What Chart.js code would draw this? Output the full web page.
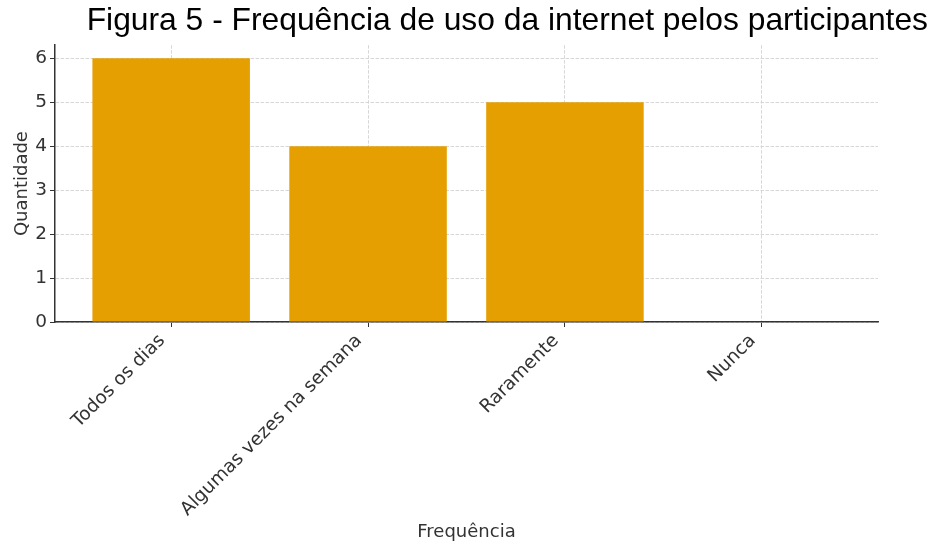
<!DOCTYPE html>
<html lang="pt">
<head>
<meta charset="utf-8">
<title>Frequência de uso da internet</title>
<script src="https://cdn.jsdelivr.net/npm/chart.js@4/dist/chart.umd.min.js"></script>
<style>
  html, body { margin: 0; padding: 0; background: #fff; }
  #chart { display: block; }
</style>
</head>
<body>
<canvas id="chart" width="938" height="544"></canvas>
<script>
// Dados
const categories = ["Todos os dias", "Algumas vezes na semana", "Raramente", "Nunca"];
const counts = [6, 4, 5, 0];
const yTicks = [0, 1, 2, 3, 4, 5, 6];

const barColor = "#E69F00";
const inkColor = "#333333";
const gridColor = "#d2d2d2";

const canvas = document.getElementById("chart");

new Chart(canvas, {
    type: "bar",
    data: {
        datasets: [{
            label: "Quantidade",
            data: categories.map((c, i) => ({ x: i, y: counts[i] })),
            backgroundColor: barColor,
            borderWidth: 0,
            barPercentage: 0.8,
            categoryPercentage: 1
        }]
    },
    options: {
        responsive: false,
        animation: false,
        layout: { padding: { left: 0, right: 10, top: 0, bottom: 0 } },
        plugins: {
            legend: { display: false },
            tooltip: { enabled: false },
            title: {
                display: true,
                text: "Figura 5 - Frequência de uso da internet pelos participantes",
                align: "end",
                color: "#000",
                font: { family: "'Liberation Sans', Arial, sans-serif", size: 31.8, weight: "normal" },
                padding: { top: 2, bottom: 5 }
            }
        },
        scales: {
            x: {
                type: "linear",
                offset: false,
                min: -0.59,
                max: 3.59,
                z: 1,
                afterBuildTicks: (scale) => {
                    scale.ticks = categories.map((c, i) => ({ value: i }));
                },
                afterFit: (scale) => {
                    // room on the right so the plot ends before the title does
                    scale.height = 222;
                    scale.paddingRight = 60;
                },
                border: { display: true, color: inkColor, width: 1.5, dash: [3.5, 1.5] },
                grid: {
                    offset: false,
                    color: gridColor,
                    lineWidth: 0.9,
                    tickColor: inkColor,
                    tickLength: 5,
                    tickWidth: 1,
                    tickBorderDash: []
                },
                ticks: {
                    autoSkip: false,
                    maxRotation: 45,
                    minRotation: 45,
                    padding: 3,
                    labelOffset: -9,
                    color: inkColor,
                    font: { family: "'DejaVu Sans', sans-serif", size: 18.5 },
                    callback: (value) => categories[value]
                },
                title: {
                    display: true,
                    text: "Frequência",
                    color: inkColor,
                    font: { family: "'DejaVu Sans', sans-serif", size: 18 },
                    padding: { top: 0, bottom: 1 }
                }
            },
            y: {
                min: 0,
                max: 6.3,
                z: 1,
                afterBuildTicks: (scale) => {
                    scale.ticks = yTicks.map(v => ({ value: v }));
                },
                afterFit: (scale) => {
                    scale.width = 55;
                },
                border: { display: true, color: inkColor, width: 1.5, dash: [3.5, 1.5] },
                grid: {
                    color: gridColor,
                    lineWidth: 0.9,
                    tickColor: inkColor,
                    tickLength: 5,
                    tickWidth: 1,
                    tickBorderDash: []
                },
                ticks: {
                    padding: 3,
                    color: inkColor,
                    font: { family: "'DejaVu Sans', sans-serif", size: 18.5 }
                },
                title: {
                    display: true,
                    text: "Quantidade",
                    color: inkColor,
                    font: { family: "'DejaVu Sans', sans-serif", size: 18 },
                    padding: { top: 12, bottom: 0 }
                }
            }
        }
    }
});
</script>
</body>
</html>
